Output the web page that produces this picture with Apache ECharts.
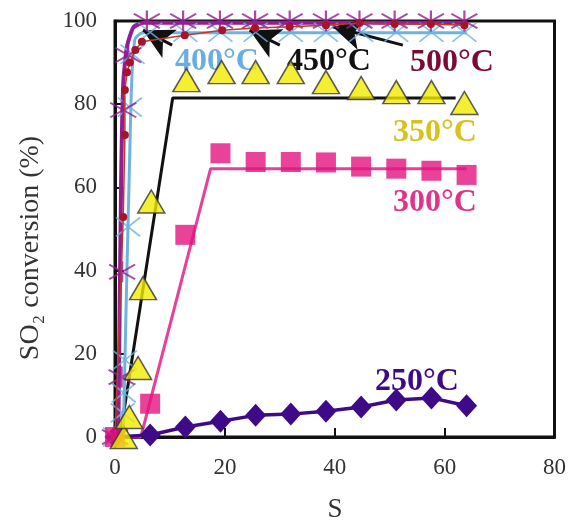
<!DOCTYPE html>
<html>
<head>
<meta charset="utf-8">
<script src="https://cdn.jsdelivr.net/npm/echarts@6/dist/echarts.min.js"></script>
<style>
html,body{margin:0;padding:0;background:#fff;}
#chart{width:569px;height:527px;}
</style>
</head>
<body>
<div id="chart"></div>
<script>
// Axis ticks
const xTicks = [0, 20, 40, 60, 80];
const yTicks = [0, 20, 40, 60, 80, 100];

// Measured SO2 conversion (%) against S, per temperature
const t250 = [[0,0],[6.4,0.5],[12.8,2.4],[19.2,3.8],[25.6,5.2],[32,5.5],[38.4,6.2],[44.8,7.2],[51.2,8.9],[57.6,9.4],[64,7.5]];
const t300 = [[0,0],[6.4,8],[12.8,48.6],[19.2,68.2],[25.6,66.1],[32,66.1],[38.4,66],[44.8,65],[51.2,64.5],[57.6,64],[64,63]];
const t350 = [[1.6,0],[2.6,4.8],[4.2,16.6],[5.1,35.8],[6.6,56.6],[13,85.8],[19.4,87.7],[25.6,87.7],[32,87.7],[38.4,85.3],[44.8,83.9],[51.2,82.9],[57.6,82.9],[63.6,80.3]];
const t400 = [[0,0],[1.4,5.8],[1.6,10.6],[1.8,18.5],[2.4,50.5],[2.7,79.3],[3.2,92],[6.4,97.3],[12.8,97.3],[19.2,97.3],[25.6,97.3],[32,97.3],[38.4,97.3],[44.8,97.3],[51.2,97.3],[57.6,97.3],[63.6,97.3]];
const t450 = [[0,0],[1.2,14.4],[1.3,39.7],[1.5,78.6],[2.4,91.8],[5.8,100],[12.4,100],[19.1,100],[25.5,100],[31.8,100],[38.4,100],[44.5,100],[50.9,100],[57.5,100],[63.6,100]];
const t500 = [[0,0],[1.5,52.9],[1.8,72.6],[1.8,83.4],[2.2,87.7],[2.7,90],[3.7,93],[4.9,95],[12.7,96.6],[19.5,97.8],[25.5,98.3],[31.8,98.6],[38.4,99],[44.5,99.5],[50.9,99.3],[57.5,99.3],[63.6,99]];

// Model curves
const fit300 = [[0,0],[4.7,0],[17.4,64.5],[64,64.5]];
const fit350 = [[0,0],[0.9,0],[10.5,81.5],[62,81.5]];
const fit400 = [[1.5,0],[2.9,80],[3.6,95.5],[5,97.2],[64,97.2]];
const fit450 = [[0.6,0],[1.1,60],[1.5,85],[2.2,94],[3.4,98.6],[5.2,99.6],[64,99.6]];

// Arrows from the labels to their curves: [tail, head]
const arrows = [
  [[10.4,94.2],[5.1,97.8]],
  [[30,94.2],[24.5,97.8]],
  [[52.4,94.2],[39.6,98.6]]
];

// Curve labels
const labels = [
  {text:'400°C', color:'#6aaee0', x:175, y:62},
  {text:'450°C', color:'#111111', x:287, y:62},
  {text:'500°C', color:'#7b0a34', x:410, y:63},
  {text:'350°C', color:'#d6c21a', x:393, y:133},
  {text:'300°C', color:'#e0338a', x:393, y:203},
  {text:'250°C', color:'#3f0a88', x:375, y:382}
];

const serif = '"Liberation Serif","Times New Roman",serif';
const asterisk = 'path://M10,0L10,20M0,3L20,17M0,17L20,3';
const cross = 'path://M0,0L20,16M0,16L20,0';

const chart = echarts.init(document.getElementById('chart'));
chart.setOption({
  animation: false,
  backgroundColor: '#fff',
  grid: {left:115, right:13, top:21, bottom:90, show:true, borderColor:'#111', borderWidth:3},
  xAxis: {
    type:'value', min:xTicks[0], max:xTicks[xTicks.length-1], interval:20,
    axisLine:{show:true, onZero:false, lineStyle:{color:'#111', width:3}},
    axisTick:{show:true, inside:true, length:9, lineStyle:{color:'#111', width:2}},
    splitLine:{show:false},
    axisLabel:{margin:19, fontFamily:serif, fontSize:23, color:'#333'}
  },
  yAxis: {
    type:'value', min:yTicks[0], max:yTicks[yTicks.length-1], interval:20,
    axisLine:{show:true, onZero:false, lineStyle:{color:'#111', width:3}},
    axisTick:{show:true, inside:true, length:9, lineStyle:{color:'#111', width:2}},
    splitLine:{show:false},
    axisLabel:{margin:18, fontFamily:serif, fontSize:23, color:'#333'}
  },
  graphic: [
    {type:'text', z:100, x:335, y:510,
      style:{text:'S', font:'27px '+serif, fill:'#333', textAlign:'center', textVerticalAlign:'middle'}},
    {type:'text', z:100, x:31, y:248, rotation:Math.PI/2,
      style:{text:'SO₂ conversion (%)', font:'28px '+serif, fill:'#333', textAlign:'center', textVerticalAlign:'middle'}}
  ].concat(labels.map(l => ({
    type:'text', z:1, x:l.x, y:l.y,
    style:{text:l.text, font:'bold 32px '+serif, fill:l.color, textVerticalAlign:'middle'}
  }))),
  series: [
    {type:'line', data:fit300, symbol:'none', clip:false, z:3, lineStyle:{color:'#e8409a', width:3}},
    {type:'line', data:fit350, symbol:'none', clip:false, z:3, lineStyle:{color:'#111', width:3}},
    {type:'line', data:fit400, symbol:'none', clip:false, z:3, smooth:0.2, lineStyle:{color:'#6db3e2', width:3}},
    {type:'line', data:fit450, symbol:'none', clip:false, z:3, smooth:0.2, lineStyle:{color:'#941e90', width:4}},
    {type:'line', data:t250, symbol:'diamond', symbolSize:[21,23], clip:false, z:5,
      itemStyle:{color:'#3f0a88'}, lineStyle:{color:'#3f0a88', width:3.5}},
    {type:'line', data:t500, symbol:'circle', symbolSize:8, clip:false, z:6,
      itemStyle:{color:'#a5142b'}, lineStyle:{color:'#c0392b', width:1.5}},
    {type:'scatter', data:t400, symbol:cross, symbolSize:[24,19], clip:false, z:5,
      itemStyle:{color:'transparent', borderColor:'#6db3e2', borderWidth:1.8}},
    {type:'scatter', data:t450, symbol:asterisk, symbolSize:[26,21], clip:false, z:5,
      itemStyle:{color:'transparent', borderColor:'#941e90', borderWidth:2}},
    {type:'scatter', data:t300, symbol:'rect', symbolSize:20, clip:false, z:7,
      itemStyle:{color:'#e2137f'}},
    {type:'scatter', data:t350, symbol:'triangle', symbolSize:[27,23], clip:false, z:8,
      itemStyle:{color:'#f3eb00', borderColor:'#333', borderWidth:1.5}},
    {type:'line', data:[], z:10,
      markLine:{silent:true, symbol:['none','arrow'], symbolSize:[24,30], precision:3,
        lineStyle:{color:'#111', width:3, type:'solid'}, label:{show:false},
        itemStyle:{color:'#111'},
        data: arrows.map(a => [{coord:a[0]}, {coord:a[1]}])}}
  ]
});
</script>
</body>
</html>
